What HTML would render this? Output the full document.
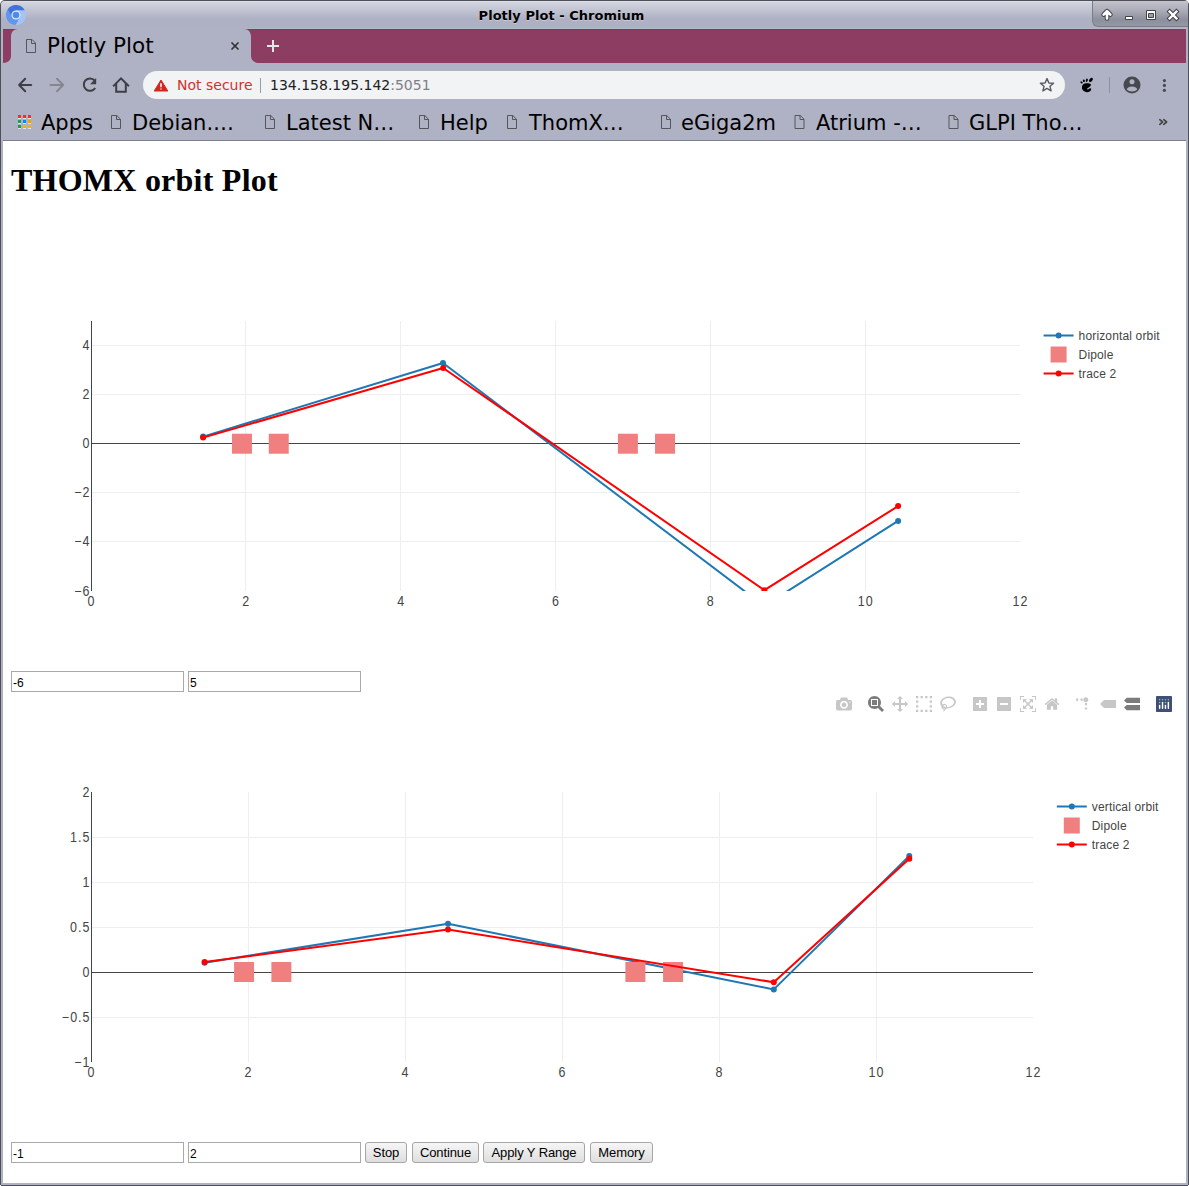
<!DOCTYPE html>
<html><head><meta charset="utf-8"><title>Plotly Plot</title>
<style>
*{box-sizing:border-box}
html,body{margin:0;padding:0;background:#fff}
body{width:1189px;height:1186px;position:relative;overflow:hidden}
.a{position:absolute}
.ui{font-family:"DejaVu Sans",sans-serif}
#content{position:absolute;left:3px;top:141px;width:1183px;height:1042px;background:#fff;overflow:hidden}
h1{position:absolute;left:8px;top:21px;margin:0;font:bold 32px/37px "Liberation Serif",serif;color:#000;white-space:nowrap;letter-spacing:0.24px}
.inp{position:absolute;height:21px;width:173px;border:1px solid #a9a9a9;background:#fff;font:12px/18px "Liberation Sans",sans-serif;color:#000;padding:2px 1px 0 1px}
.btn{position:absolute;height:21px;top:1001px;border:1px solid #a6a6a6;border-radius:3px;background:linear-gradient(#f6f6f6,#dedede);font:13px/17px "Liberation Sans",sans-serif;letter-spacing:-0.1px;color:#000;text-align:center;padding-top:1px}
.bm{position:absolute;top:105px;height:36px;font:21px/36px "DejaVu Sans",sans-serif;color:#000;white-space:nowrap}
</style></head>
<body>
<!-- ===== window frame & title bar ===== -->
<div class="a" style="left:0;top:0;width:1189px;height:1186px;background:#4d4f59;border-radius:5px 5px 0 0"></div>
<div class="a" style="left:0;top:1185px;width:1px;height:1px;background:#fff"></div><div class="a" style="left:1188px;top:1185px;width:1px;height:1px;background:#fff"></div>
<div class="a" style="left:1px;top:1px;width:1187px;height:1184px;background:#afb2c5;border-radius:4px 4px 0 0"></div>
<div class="a" style="left:1px;top:1px;width:1187px;height:28px;border-radius:4px 4px 0 0;background:linear-gradient(#dcdfe7 0px,#dcdfe7 1px,#d3d5df 1px,#aeb1c4 18px)"></div>
<!-- chromium logo -->
<svg class="a" style="left:5px;top:4px" width="22" height="22" viewBox="5 4 22 22">
 <path d="M16 15 L12 17.3 L7.57 9.59 A10 10 0 0 1 24.9 10.4 L16 10.4 Z" fill="#3f72da"/>
 <path d="M16 15 L16 10.4 L24.9 10.4 A10 10 0 0 1 15.53 25.01 L19.98 17.3 Z" fill="#a4c3f8"/>
 <path d="M16 15 L19.98 17.3 L15.53 25.01 A10 10 0 0 1 7.57 9.59 L12 17.3 Z" fill="#6196ee"/>
 <circle cx="16" cy="15" r="4.6" fill="#e4eaf8"/>
 <circle cx="16" cy="15" r="3.3" fill="#4a8af4"/>
</svg>
<div class="a ui" style="left:0;top:7px;width:1123px;text-align:center;font-weight:bold;font-size:13px;line-height:18px;letter-spacing:0.03px;color:#000;text-shadow:0 1px 0 rgba(255,255,255,.35)">Plotly Plot - Chromium</div>
<!-- window controls -->
<div class="a" style="left:1092px;top:1px;width:96px;height:26px;border-left:1px solid #7b7e8a;border-bottom:1px solid #7b7e8a;border-bottom-left-radius:6px;background:linear-gradient(#c2c3cb,#a9abb6 40%,#8c8f9c 75%,#9497a4)"></div>
<svg class="a" style="left:1092px;top:0" width="96" height="28" viewBox="1092 0 96 28">
 <g fill="none" stroke-linejoin="round">
  <path d="M1103.6 14.6 L1107 11.2 L1110.4 14.6 M1107 11.5 V18.4" stroke="#41434b" stroke-width="4.6" stroke-linecap="round"/>
  <path d="M1103.6 14.6 L1107 11.2 L1110.4 14.6 M1107 11.5 V18.4" stroke="#fff" stroke-width="2.6" stroke-linecap="round"/>
  <path d="M1169.6 11.6 L1176.4 18.4 M1176.4 11.6 L1169.6 18.4" stroke="#41434b" stroke-width="4.4" stroke-linecap="square"/>
  <path d="M1169.6 11.6 L1176.4 18.4 M1176.4 11.6 L1169.6 18.4" stroke="#fff" stroke-width="2.4" stroke-linecap="square"/>
 </g>
 <g fill="#fff" stroke="#41434b" stroke-width="1" stroke-linejoin="round">
  <rect x="1125.5" y="16.5" width="7" height="3"/>
  <path d="M1146.5 10.5 H1155.5 V19.5 H1146.5 Z M1148.5 13.5 V17.5 H1153.5 V13.5 Z" fill-rule="evenodd"/>
 </g>
</svg>

<!-- ===== tab strip ===== -->
<div class="a" style="left:3px;top:29px;width:1183px;height:34px;background:#8d3c62;border-top:1px solid #88345d"></div>
<div class="a" style="left:245px;top:28px;width:941px;height:1px;background:#b1bac9"></div>
<svg class="a" style="left:0;top:28px" width="270" height="36" viewBox="0 28 270 36">
 <path d="M3 63 C8 63 11 60 11 56 V37 C11 32 13.5 29 18 29 H244 C248.5 29 251 32 251 37 V56 C251 60 254 63 259 63 Z" fill="#afb2c5"/>
 <path d="M26.5 39.5 H32 L35.5 43 V52.5 H26.5 Z M31.5 39.5 V43.5 H35.5" fill="none" stroke="#555658" stroke-width="1"/>
 <path d="M231.5 42.5 L238.5 49.5 M238.5 42.5 L231.5 49.5" stroke="#2e2f33" stroke-width="1.6"/>
</svg>
<div class="a ui" style="left:47px;top:32px;font-size:21.5px;line-height:28px;color:#000;white-space:nowrap">Plotly Plot</div>
<svg class="a" style="left:262px;top:35px" width="22" height="22" viewBox="262 35 22 22">
 <path d="M273 40 V52 M267 46 H279" stroke="#e6e6e6" stroke-width="2"/>
</svg>

<!-- ===== toolbar ===== -->
<svg class="a" style="left:3px;top:63px" width="140" height="41" viewBox="3 63 140 41">
 <path d="M31.2 85 H19.5 M25.2 78.8 L19.1 85 L25.2 91.2" fill="none" stroke="#3e3f44" stroke-width="2" stroke-linecap="round" stroke-linejoin="round"/>
 <path d="M50.5 85 H63 M57 78.8 L63.2 85 L57 91.2" fill="none" stroke="#85878f" stroke-width="2" stroke-linecap="round" stroke-linejoin="round"/>
 <path d="M94.7 80.5 A6.2 6.2 0 1 0 95.2 88" fill="none" stroke="#3e3f44" stroke-width="2"/>
 <path d="M96.2 78 V84.2 H90 Z" fill="#3e3f44"/>
 <path d="M113.8 85.6 L121 78.3 L128.2 85.6" fill="none" stroke="#3e3f44" stroke-width="2" stroke-linecap="square"/>
 <path d="M116.2 83.5 V91.7 H125.8 V83.5" fill="none" stroke="#3e3f44" stroke-width="2"/>
</svg>
<div class="a" style="left:143px;top:71px;width:922px;height:28px;border-radius:14px;background:#f1f3f4"></div>
<svg class="a" style="left:150px;top:76px" width="22" height="18" viewBox="150 76 22 18">
 <path d="M161 80 L167.8 91 H154.2 Z" fill="#d0271e" stroke="#d0271e" stroke-width="1" stroke-linejoin="round"/>
 <path d="M161 83.3 V87.2 M161 88.4 V89.6" stroke="#fff" stroke-width="1.5"/>
</svg>
<div class="a ui" style="left:177px;top:75px;font-size:14px;line-height:20px;color:#d3302a;white-space:nowrap">Not secure</div>
<div class="a" style="left:260px;top:78px;width:1px;height:15px;background:#9a9ca3"></div>
<div class="a ui" style="left:270px;top:75px;font-size:14px;line-height:20px;color:#202124;white-space:nowrap">134.158.195.142<span style="color:#7d8086">:5051</span></div>
<svg class="a" style="left:1038px;top:76px" width="18" height="18" viewBox="1038 76 18 18">
 <path d="M1047 78.6 L1048.9 83 L1053.6 83.3 L1050 86.3 L1051.1 90.9 L1047 88.4 L1042.9 90.9 L1044 86.3 L1040.4 83.3 L1045.1 83 Z" fill="none" stroke="#585b61" stroke-width="1.4" stroke-linejoin="round"/>
</svg>
<!-- gnome foot -->
<svg class="a" style="left:1078px;top:75px" width="18" height="20" viewBox="1078 75 18 20">
 <g fill="#000">
  <path d="M1083 84.5 C1084.5 82.8 1089 82.8 1090.8 84.2 C1091.5 85.5 1089.5 87.2 1087.8 87.9 C1087 88.3 1086.8 89.3 1087.8 89.4 C1088.8 89.4 1089.3 88 1090.5 88.2 C1091.8 88.5 1091.3 91 1089.2 91.8 C1086.5 92.7 1083.5 91.8 1082.3 89.3 C1081.6 87.6 1082 85.6 1083 84.5 Z"/>
  <ellipse cx="1081.6" cy="82.4" rx="1.3" ry="0.85" transform="rotate(30 1081.6 82.4)"/>
  <ellipse cx="1083.9" cy="80.8" rx="1.0" ry="1.3" transform="rotate(-20 1083.9 80.8)"/>
  <ellipse cx="1086.8" cy="80.3" rx="1.0" ry="1.7" transform="rotate(15 1086.8 80.3)"/>
  <ellipse cx="1090.9" cy="79.9" rx="1.5" ry="2.4" transform="rotate(42 1090.9 79.9)"/>
 </g>
</svg>
<div class="a" style="left:1109px;top:77px;width:1px;height:16px;background:#8e909b"></div>
<svg class="a" style="left:1122px;top:75px" width="20" height="20" viewBox="1122 75 20 20">
 <circle cx="1132" cy="85" r="8.5" fill="#48494e"/>
 <circle cx="1132" cy="81.7" r="2.5" fill="#afb2c5"/>
 <path d="M1126.6 89.6 Q1128 86.4 1132 86.4 Q1136 86.4 1137.4 89.6 Q1135.2 91.6 1132 91.6 Q1128.8 91.6 1126.6 89.6 Z" fill="#afb2c5"/>
</svg>
<svg class="a" style="left:1158px;top:76px" width="12" height="18" viewBox="1158 76 12 18">
 <circle cx="1164.4" cy="80.6" r="1.6" fill="#48494e"/>
 <circle cx="1164.4" cy="85.4" r="1.6" fill="#48494e"/>
 <circle cx="1164.4" cy="90.3" r="1.6" fill="#48494e"/>
</svg>

<!-- ===== bookmarks bar ===== -->
<svg class="a" style="left:16px;top:113px" width="18" height="18" viewBox="16 113 18 18"><rect x="18" y="115" width="3" height="3" fill="#fd2a20"/><rect x="18" y="118" width="3" height="1" fill="#dfe5f0"/><rect x="23" y="115" width="3" height="3" fill="#fd2a20"/><rect x="23" y="118" width="3" height="1" fill="#dfe5f0"/><rect x="28" y="115" width="3" height="3" fill="#fd2a20"/><rect x="28" y="118" width="3" height="1" fill="#dfe5f0"/><rect x="18" y="120" width="3" height="3" fill="#1f9d4a"/><rect x="18" y="123" width="3" height="1" fill="#dfe5f0"/><rect x="23" y="120" width="3" height="3" fill="#0b84fc"/><rect x="23" y="123" width="3" height="1" fill="#dfe5f0"/><rect x="28" y="120" width="3" height="3" fill="#f0a100"/><rect x="28" y="123" width="3" height="1" fill="#dfe5f0"/><rect x="18" y="125" width="3" height="3" fill="#1f9d4a"/><rect x="18" y="128" width="3" height="1" fill="#dfe5f0"/><rect x="23" y="125" width="3" height="3" fill="#feb000"/><rect x="23" y="128" width="3" height="1" fill="#dfe5f0"/><rect x="28" y="125" width="3" height="3" fill="#feb000"/><rect x="28" y="128" width="3" height="1" fill="#dfe5f0"/></svg>
<div class="bm" style="left:41px">Apps</div>
<svg class="a" style="left:0;top:104px" width="1189" height="36" viewBox="0 104 1189 36">
 <defs><path id="pg" d="M0.5 0.5 H5.8 L9.5 4.2 V13.5 H0.5 Z M5.5 0.5 V4.5 H9.5" fill="none" stroke="#555658" stroke-width="1"/></defs>
 <use href="#pg" x="111" y="115"/>
 <use href="#pg" x="265" y="115"/>
 <use href="#pg" x="419" y="115"/>
 <use href="#pg" x="507" y="115"/>
 <use href="#pg" x="661" y="115"/>
 <use href="#pg" x="794.5" y="115"/>
 <use href="#pg" x="948.5" y="115"/>
</svg>
<div class="bm" style="left:132px">Debian.…</div>
<div class="bm" style="left:286px">Latest N…</div>
<div class="bm" style="left:440px">Help</div>
<div class="bm" style="left:529px">ThomX…</div>
<div class="bm" style="left:681px">eGiga2m</div>
<div class="bm" style="left:816px">Atrium -…</div>
<div class="bm" style="left:969px">GLPI Tho…</div>
<svg class="a" style="left:1154px;top:114px" width="18" height="16" viewBox="1154 114 18 16"><path d="M1159.8 119.7 L1162.6 122 L1159.8 124.3 M1163.8 119.7 L1166.6 122 L1163.8 124.3" fill="none" stroke="#454545" stroke-width="1.7" stroke-linecap="round" stroke-linejoin="round"/></svg>
<div class="a" style="left:3px;top:140px;width:1183px;height:1px;background:#7d808c"></div>

<!-- ===== page content ===== -->
<div id="content">
 <h1>THOMX orbit Plot</h1>
 <div class="inp" style="left:8px;top:530px">-6</div>
 <div class="inp" style="left:185px;top:530px">5</div>
 <div class="inp" style="left:8px;top:1001px">-1</div>
 <div class="inp" style="left:185px;top:1001px">2</div>
 <div class="btn" style="left:362px;width:42px">Stop</div>
 <div class="btn" style="left:409px;width:67px">Continue</div>
 <div class="btn" style="left:480px;width:102px">Apply Y Range</div>
 <div class="btn" style="left:587px;width:63px">Memory</div>
</div>
<svg class="a" style="left:0;top:0" width="1189" height="1186" viewBox="0 0 1189 1186">
<clipPath id="c1"><rect x="91" y="321" width="929" height="270"/></clipPath>
<path d="M245.5 321V591M400.5 321V591M555.5 321V591M710.5 321V591M865.5 321V591M91 541.5H1020M91 492.5H1020M91 394.5H1020M91 345.5H1020" stroke="#eee" stroke-width="1" fill="none" shape-rendering="crispEdges"/>
<path d="M91 443.5H1020M91.5 321V591" stroke="#444" stroke-width="1" fill="none" shape-rendering="crispEdges"/>
<g font-family="Liberation Sans, sans-serif" font-size="12.5" letter-spacing="1" fill="#444"><text transform="translate(91.5 605.5) scale(1 1.12)" text-anchor="middle">0</text><text transform="translate(246.33 605.5) scale(1 1.12)" text-anchor="middle">2</text><text transform="translate(401.17 605.5) scale(1 1.12)" text-anchor="middle">4</text><text transform="translate(556 605.5) scale(1 1.12)" text-anchor="middle">6</text><text transform="translate(710.83 605.5) scale(1 1.12)" text-anchor="middle">8</text><text transform="translate(865.67 605.5) scale(1 1.12)" text-anchor="middle">10</text><text transform="translate(1020.5 605.5) scale(1 1.12)" text-anchor="middle">12</text><text transform="translate(90.5 595.8) scale(1 1.12)" text-anchor="end">−6</text><text transform="translate(90.5 545.8) scale(1 1.12)" text-anchor="end">−4</text><text transform="translate(90.5 496.8) scale(1 1.12)" text-anchor="end">−2</text><text transform="translate(90.5 447.8) scale(1 1.12)" text-anchor="end">0</text><text transform="translate(90.5 398.8) scale(1 1.12)" text-anchor="end">2</text><text transform="translate(90.5 349.8) scale(1 1.12)" text-anchor="end">4</text></g>
<g clip-path="url(#c1)"><path d="M203.1,436.6L443,363L764.2,606L898.1,520.9" fill="none" stroke="#1f77b4" stroke-width="2" stroke-linejoin="round"/><circle cx="203.1" cy="436.6" r="3" fill="#1f77b4"/><circle cx="443" cy="363" r="3" fill="#1f77b4"/><circle cx="764.2" cy="606" r="3" fill="#1f77b4"/><circle cx="898.1" cy="520.9" r="3" fill="#1f77b4"/><rect x="231.96" y="433.73" width="20" height="20" fill="#f08080"/><rect x="268.74" y="433.73" width="20" height="20" fill="#f08080"/><rect x="617.88" y="433.73" width="20" height="20" fill="#f08080"/><rect x="655.04" y="433.73" width="20" height="20" fill="#f08080"/><path d="M203.1,437.6L443.2,368L764.4,590.2L898.1,506.1" fill="none" stroke="#ff0000" stroke-width="2" stroke-linejoin="round"/><circle cx="203.1" cy="437.6" r="3" fill="#ff0000"/><circle cx="443.2" cy="368" r="3" fill="#ff0000"/><circle cx="764.4" cy="590.2" r="3" fill="#ff0000"/><circle cx="898.1" cy="506.1" r="3" fill="#ff0000"/></g>
<path d="M1043.6 335.5H1073.6" stroke="#1f77b4" stroke-width="2"/><circle cx="1058.6" cy="335.5" r="3" fill="#1f77b4"/><text x="1078.6" y="339.7" font-family="Liberation Sans, sans-serif" font-size="12" fill="#444" letter-spacing="0.15">horizontal orbit</text><rect x="1050.6" y="346.5" width="16" height="16" fill="#f08080"/><text x="1078.6" y="358.7" font-family="Liberation Sans, sans-serif" font-size="12" fill="#444" letter-spacing="0.15">Dipole</text><path d="M1043.6 373.5H1073.6" stroke="#ff0000" stroke-width="2"/><circle cx="1058.6" cy="373.5" r="3" fill="#ff0000"/><text x="1078.6" y="377.7" font-family="Liberation Sans, sans-serif" font-size="12" fill="#444" letter-spacing="0.15">trace 2</text>
<clipPath id="c2"><rect x="91" y="792" width="942" height="270"/></clipPath>
<path d="M248.5 792V1062M405.5 792V1062M562.5 792V1062M719.5 792V1062M876.5 792V1062M91 1017.5H1033M91 927.5H1033M91 882.5H1033M91 837.5H1033" stroke="#eee" stroke-width="1" fill="none" shape-rendering="crispEdges"/>
<path d="M91 972.5H1033M91.5 792V1062" stroke="#444" stroke-width="1" fill="none" shape-rendering="crispEdges"/>
<g font-family="Liberation Sans, sans-serif" font-size="12.5" letter-spacing="1" fill="#444"><text transform="translate(91.5 1076.5) scale(1 1.12)" text-anchor="middle">0</text><text transform="translate(248.5 1076.5) scale(1 1.12)" text-anchor="middle">2</text><text transform="translate(405.5 1076.5) scale(1 1.12)" text-anchor="middle">4</text><text transform="translate(562.5 1076.5) scale(1 1.12)" text-anchor="middle">6</text><text transform="translate(719.5 1076.5) scale(1 1.12)" text-anchor="middle">8</text><text transform="translate(876.5 1076.5) scale(1 1.12)" text-anchor="middle">10</text><text transform="translate(1033.5 1076.5) scale(1 1.12)" text-anchor="middle">12</text><text transform="translate(90.5 1066.8) scale(1 1.12)" text-anchor="end">−1</text><text transform="translate(90.5 1021.8) scale(1 1.12)" text-anchor="end">−0.5</text><text transform="translate(90.5 976.8) scale(1 1.12)" text-anchor="end">0</text><text transform="translate(90.5 931.8) scale(1 1.12)" text-anchor="end">0.5</text><text transform="translate(90.5 886.8) scale(1 1.12)" text-anchor="end">1</text><text transform="translate(90.5 841.8) scale(1 1.12)" text-anchor="end">1.5</text><text transform="translate(90.5 796.8) scale(1 1.12)" text-anchor="end">2</text></g>
<g clip-path="url(#c2)"><path d="M204.6,962.8L448,923.8L773.8,989.4L909.3,856" fill="none" stroke="#1f77b4" stroke-width="2" stroke-linejoin="round"/><circle cx="204.6" cy="962.8" r="3" fill="#1f77b4"/><circle cx="448" cy="923.8" r="3" fill="#1f77b4"/><circle cx="773.8" cy="989.4" r="3" fill="#1f77b4"/><circle cx="909.3" cy="856" r="3" fill="#1f77b4"/><rect x="234.08" y="962" width="20" height="20" fill="#f08080"/><rect x="271.36" y="962" width="20" height="20" fill="#f08080"/><rect x="625.4" y="962" width="20" height="20" fill="#f08080"/><rect x="663.08" y="962" width="20" height="20" fill="#f08080"/><path d="M204.6,962.1L448,929.5L773.8,982.3L909.3,858.7" fill="none" stroke="#ff0000" stroke-width="2" stroke-linejoin="round"/><circle cx="204.6" cy="962.1" r="3" fill="#ff0000"/><circle cx="448" cy="929.5" r="3" fill="#ff0000"/><circle cx="773.8" cy="982.3" r="3" fill="#ff0000"/><circle cx="909.3" cy="858.7" r="3" fill="#ff0000"/></g>
<path d="M1056.8 806.5H1086.8" stroke="#1f77b4" stroke-width="2"/><circle cx="1071.8" cy="806.5" r="3" fill="#1f77b4"/><text x="1091.8" y="810.7" font-family="Liberation Sans, sans-serif" font-size="12" fill="#444" letter-spacing="0.15">vertical orbit</text><rect x="1063.8" y="817.5" width="16" height="16" fill="#f08080"/><text x="1091.8" y="829.7" font-family="Liberation Sans, sans-serif" font-size="12" fill="#444" letter-spacing="0.15">Dipole</text><path d="M1056.8 844.5H1086.8" stroke="#ff0000" stroke-width="2"/><circle cx="1071.8" cy="844.5" r="3" fill="#ff0000"/><text x="1091.8" y="848.7" font-family="Liberation Sans, sans-serif" font-size="12" fill="#444" letter-spacing="0.15">trace 2</text>
<svg x="836" y="696" width="16" height="16" viewBox="0 0 1000 1000"><path d="m500 450c-83 0-150-67-150-150 0-83 67-150 150-150 83 0 150 67 150 150 0 83-67 150-150 150z m400 150h-120c-16 0-34 13-39 29l-31 93c-6 15-23 28-40 28h-340c-16 0-34-13-39-28l-31-94c-6-15-23-28-40-28h-120c-55 0-100-45-100-100v-450c0-55 45-100 100-100h800c55 0 100 45 100 100v450c0 55-45 100-100 100z m-400-550c-138 0-250 112-250 250 0 138 112 250 250 250 138 0 250-112 250-250 0-138-112-250-250-250z m365 380c-19 0-35 16-35 35 0 19 16 35 35 35 19 0 35-16 35-35 0-19-16-35-35-35z" transform="matrix(1 0 0 -1 0 850)" fill="rgba(68,68,68,0.3)"/></svg>
<svg x="868" y="696" width="16" height="16" viewBox="0 0 1000 1000"><path d="m1000-25l-250 251c40 63 63 138 63 218 0 224-182 406-407 406-224 0-406-182-406-406s183-406 407-406c80 0 155 22 218 62l250-250 125 125z m-812 250l0 438 437 0 0-438-437 0z m62 375l313 0 0-312-313 0 0 312z" transform="matrix(1 0 0 -1 0 850)" fill="rgba(68,68,68,0.7)"/></svg>
<svg x="892" y="696" width="16" height="16" viewBox="0 0 1000 1000"><path d="m1000 350l-187 188 0-125-250 0 0 250 125 0-188 187-187-187 125 0 0-250-250 0 0 125-188-188 186-187 0 125 252 0 0-250-125 0 187-188 188 188-125 0 0 250 250 0 0-126 187 188z" transform="matrix(1 0 0 -1 0 850)" fill="rgba(68,68,68,0.3)"/></svg>
<svg x="916" y="696" width="16" height="16" viewBox="0 0 1000 1000"><path d="M0 0h143v143h-143zM286 0h143v143h-143zM571 0h143v143h-143zM857 0h143v143h-143zM0 286h143v143h-143zM857 286h143v143h-143zM0 571h143v143h-143zM857 571h143v143h-143zM0 857h143v143h-143zM286 857h143v143h-143zM571 857h143v143h-143zM857 857h143v143h-143z" fill="rgba(68,68,68,0.3)"/></svg>
<svg x="940" y="696" width="16" height="16" viewBox="0 0 1031 1000"><path d="m1018 538c-36 207-290 336-568 286-277-48-473-256-436-463 10-57 36-108 76-151-13-66 11-137 68-183 34-28 75-41 114-42l-55-70 0 0c-2-1-3-2-4-3-10-14-8-34 5-45 14-11 34-8 45 4 1 1 2 3 2 5l0 0 113 140c16 11 31 24 45 40 4 3 6 7 8 11 48-3 100 0 151 9 278 48 473 255 436 462z m-624-379c-80 14-149 48-197 96 42 42 109 47 156 9 33-26 47-66 41-105z m-187-74c-19 16-33 37-39 60 50-32 109-55 174-68-42-25-95-24-135 8z m360 75c-34-7-69-9-102-8 8 62-16 128-68 170-73 59-175 54-244-5-9 20-16 40-20 61-28 159 121 317 333 354s407-60 434-217c28-159-121-318-333-355z" transform="matrix(1 0 0 -1 0 850)" fill="rgba(68,68,68,0.3)"/></svg>
<svg x="972" y="696" width="16" height="16" viewBox="0 0 875 1000"><path d="m1 787l0-875 875 0 0 875-875 0z m687-500l-187 0 0-187-125 0 0 187-188 0 0 125 188 0 0 187 125 0 0-187 187 0 0-125z" transform="matrix(1 0 0 -1 0 850)" fill="rgba(68,68,68,0.3)"/></svg>
<svg x="996" y="696" width="16" height="16" viewBox="0 0 875 1000"><path d="m0 788l0-876 875 0 0 876-875 0z m688-500l-500 0 0 125 500 0 0-125z" transform="matrix(1 0 0 -1 0 850)" fill="rgba(68,68,68,0.3)"/></svg>
<svg x="1020" y="696" width="16" height="16" viewBox="0 0 1000 1000"><path d="m250 850l-187 0-63 0 0-62 0-188 63 0 0 188 187 0 0 62z m688 0l-188 0 0-62 188 0 0-188 62 0 0 188 0 62-62 0z m-875-938l0 188-63 0 0-188 0-62 63 0 187 0 0 62-187 0z m875 188l0-188-188 0 0-62 188 0 62 0 0 62 0 188-62 0z m-125 188l-1 0-93-94-156 156 156 156 92-93 2 0 0 250-250 0 0-2 93-92-156-156-156 156 94 92 0 2-250 0 0-250 0 0 93 93 157-156-157-156-93 94 0 0 0-250 250 0 0 0-94 93 156 157 156-157-93-93 0 0 250 0 0 250z" transform="matrix(1 0 0 -1 0 850)" fill="rgba(68,68,68,0.3)"/></svg>
<svg x="1044" y="696" width="16" height="16" viewBox="0 0 928.6 1000"><path d="m786 296v-267q0-15-11-26t-25-10h-214v214h-143v-214h-214q-15 0-25 10t-11 26v267q0 1 0 2t0 2l321 264 321-264q1-1 1-4z m124 39l-34-41q-5-5-12-6h-2q-7 0-12 3l-386 322-386-322q-7-4-13-4-7 2-12 7l-35 41q-4 5-3 13t6 12l401 334q18 15 42 15t43-15l136-114v109q0 8 5 13t13 5h107q8 0 13-5t5-13v-227l122-102q5-5 6-12t-4-13z" transform="matrix(1 0 0 -1 0 850)" fill="rgba(68,68,68,0.3)"/></svg>
<svg x="1076" y="696" width="16" height="16" viewBox="0 0 1000 1000"><path d="M512 409c0-57-46-104-103-104-57 0-104 47-104 104 0 57 47 103 104 103 57 0 103-46 103-103z m-327-39l92 0 0 92-92 0z m-185 0l92 0 0 92-92 0z m370-186l92 0 0 93-92 0z m0-184l92 0 0 92-92 0z" transform="matrix(1.5 0 0 -1.5 0 850)" fill="rgba(68,68,68,0.3)"/></svg>
<svg x="1100" y="696" width="16" height="16" viewBox="0 0 1500 1000"><path d="m375 725l0 0-375-375 375-374 0-1 1125 0 0 750-1125 0z" transform="matrix(1 0 0 -1 0 850)" fill="rgba(68,68,68,0.3)"/></svg>
<svg x="1124" y="696" width="16" height="16" viewBox="0 0 1125 1000"><path d="m187 786l0 2-187-188 188-187 0 0 937 0 0 373-938 0z m0-499l0 1-187-188 188-188 0 0 937 0 0 376-938-1z" transform="matrix(1 0 0 -1 0 850)" fill="rgba(68,68,68,0.7)"/></svg>
<svg x="1156" y="696" width="16" height="16" viewBox="0 0 132 132"><rect width="132" height="132" rx="6" ry="6" fill="#3f4f75"/><g fill="#80cfbe"><circle cx="78" cy="54" r="6"/><circle cx="102" cy="30" r="6"/><circle cx="78" cy="30" r="6"/><circle cx="54" cy="30" r="6"/><circle cx="30" cy="30" r="6"/><circle cx="30" cy="54" r="6"/></g><g fill="#fff"><path d="M30,72a6,6,0,0,0-6,6v24a6,6,0,0,0,12,0V78A6,6,0,0,0,30,72Z"/><path d="M78,72a6,6,0,0,0-6,6v24a6,6,0,0,0,12,0V78A6,6,0,0,0,78,72Z"/><path d="M54,48a6,6,0,0,0-6,6v48a6,6,0,0,0,12,0V54A6,6,0,0,0,54,48Z"/><path d="M102,48a6,6,0,0,0-6,6v48a6,6,0,0,0,12,0V54A6,6,0,0,0,102,48Z"/></g></svg>
</svg>
</body></html>
